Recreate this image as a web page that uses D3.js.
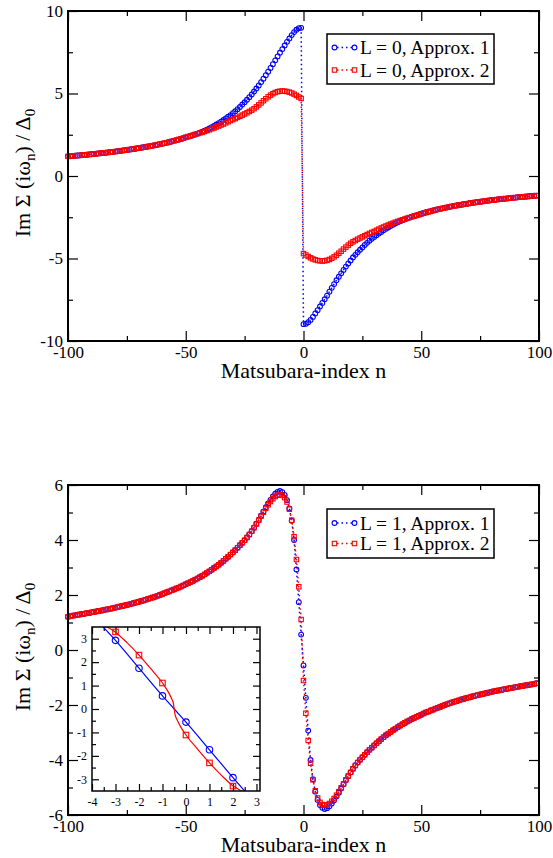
<!DOCTYPE html>
<html>
<head>
<meta charset="utf-8">
<script src="https://cdnjs.cloudflare.com/ajax/libs/d3/7.8.5/d3.min.js"></script>
<style>
  body { margin: 0; background: #fff; }
  svg { display: block; font-family: 'Liberation Serif', 'Times New Roman', Times, serif; }
</style>
</head>
<body>
<div id="chart"></div>
<script>
// Matsubara index n (x of every point in both panels)
const matsubaraN = d3.range(-100, 100);

// top panel, L = 0, Approx. 1  (n = -100 ... 99)
const imL0a1 = [
  1.19, 1.20, 1.21, 1.23, 1.24, 1.25, 1.27, 1.28, 1.29, 1.31,
  1.32, 1.34, 1.35, 1.37, 1.38, 1.40, 1.41, 1.43, 1.45, 1.46,
  1.48, 1.50, 1.52, 1.54, 1.56, 1.58, 1.60, 1.62, 1.64, 1.67,
  1.69, 1.71, 1.74, 1.76, 1.79, 1.81, 1.84, 1.87, 1.90, 1.93,
  1.96, 1.99, 2.02, 2.06, 2.09, 2.13, 2.17, 2.20, 2.24, 2.29,
  2.33, 2.38, 2.42, 2.47, 2.52, 2.57, 2.63, 2.68, 2.74, 2.80,
  2.88, 2.96, 3.03, 3.12, 3.20, 3.29, 3.39, 3.49, 3.59, 3.69,
  3.81, 3.92, 4.05, 4.18, 4.33, 4.47, 4.62, 4.78, 4.94, 5.12,
  5.30, 5.49, 5.69, 5.90, 6.11, 6.32, 6.55, 6.78, 7.01, 7.25,
  7.47, 7.69, 7.91, 8.13, 8.33, 8.54, 8.72, 8.86, 8.96, 8.98,
  -8.98, -8.96, -8.86, -8.72, -8.54, -8.33, -8.13, -7.91, -7.69, -7.47,
  -7.25, -7.01, -6.78, -6.55, -6.32, -6.11, -5.90, -5.69, -5.49, -5.30,
  -5.12, -4.94, -4.78, -4.62, -4.47, -4.33, -4.18, -4.05, -3.92, -3.81,
  -3.69, -3.59, -3.49, -3.39, -3.29, -3.20, -3.12, -3.03, -2.96, -2.88,
  -2.80, -2.74, -2.68, -2.63, -2.57, -2.52, -2.47, -2.42, -2.38, -2.33,
  -2.29, -2.24, -2.20, -2.17, -2.13, -2.09, -2.06, -2.02, -1.99, -1.96,
  -1.93, -1.90, -1.87, -1.84, -1.81, -1.79, -1.76, -1.74, -1.71, -1.69,
  -1.67, -1.64, -1.62, -1.60, -1.58, -1.56, -1.54, -1.52, -1.50, -1.48,
  -1.46, -1.45, -1.43, -1.41, -1.40, -1.38, -1.37, -1.35, -1.34, -1.32,
  -1.31, -1.29, -1.28, -1.27, -1.25, -1.24, -1.23, -1.21, -1.20, -1.19
];

// top panel, L = 0, Approx. 2
const imL0a2 = [
  1.19, 1.20, 1.21, 1.23, 1.24, 1.25, 1.27, 1.28, 1.29, 1.31,
  1.32, 1.34, 1.35, 1.37, 1.38, 1.40, 1.41, 1.43, 1.45, 1.46,
  1.48, 1.50, 1.52, 1.54, 1.56, 1.58, 1.60, 1.62, 1.64, 1.67,
  1.69, 1.71, 1.74, 1.76, 1.79, 1.81, 1.84, 1.87, 1.90, 1.93,
  1.96, 1.99, 2.02, 2.06, 2.10, 2.14, 2.18, 2.22, 2.26, 2.30,
  2.35, 2.39, 2.43, 2.47, 2.52, 2.56, 2.61, 2.65, 2.70, 2.75,
  2.80, 2.86, 2.91, 2.97, 3.03, 3.09, 3.15, 3.22, 3.29, 3.36,
  3.42, 3.48, 3.55, 3.62, 3.69, 3.76, 3.83, 3.91, 3.99, 4.08,
  4.19, 4.31, 4.43, 4.56, 4.68, 4.80, 4.90, 4.99, 5.06, 5.11,
  5.14, 5.15, 5.14, 5.12, 5.08, 5.03, 4.96, 4.88, 4.79, 4.70,
  -4.70, -4.79, -4.88, -4.96, -5.03, -5.08, -5.12, -5.14, -5.15, -5.14,
  -5.11, -5.06, -4.99, -4.90, -4.80, -4.68, -4.56, -4.43, -4.31, -4.19,
  -4.08, -3.99, -3.91, -3.83, -3.76, -3.69, -3.62, -3.55, -3.48, -3.42,
  -3.36, -3.29, -3.22, -3.15, -3.09, -3.03, -2.97, -2.91, -2.86, -2.80,
  -2.75, -2.70, -2.65, -2.61, -2.56, -2.52, -2.47, -2.43, -2.39, -2.35,
  -2.30, -2.26, -2.22, -2.18, -2.14, -2.10, -2.06, -2.02, -1.99, -1.96,
  -1.93, -1.90, -1.87, -1.84, -1.81, -1.79, -1.76, -1.74, -1.71, -1.69,
  -1.67, -1.64, -1.62, -1.60, -1.58, -1.56, -1.54, -1.52, -1.50, -1.48,
  -1.46, -1.45, -1.43, -1.41, -1.40, -1.38, -1.37, -1.35, -1.34, -1.32,
  -1.31, -1.29, -1.28, -1.27, -1.25, -1.24, -1.23, -1.21, -1.20, -1.19
];

// bottom panel, L = 1, Approx. 1
const imL1a1 = [
  1.21, 1.23, 1.25, 1.26, 1.28, 1.29, 1.31, 1.32, 1.34, 1.35,
  1.37, 1.38, 1.40, 1.42, 1.43, 1.45, 1.47, 1.48, 1.50, 1.52,
  1.54, 1.56, 1.58, 1.60, 1.62, 1.64, 1.66, 1.68, 1.71, 1.73,
  1.75, 1.78, 1.80, 1.83, 1.86, 1.88, 1.91, 1.94, 1.97, 2.00,
  2.03, 2.07, 2.10, 2.13, 2.17, 2.20, 2.24, 2.27, 2.31, 2.35,
  2.39, 2.43, 2.47, 2.51, 2.56, 2.60, 2.65, 2.70, 2.75, 2.81,
  2.86, 2.92, 2.98, 3.04, 3.10, 3.17, 3.24, 3.32, 3.39, 3.47,
  3.55, 3.63, 3.72, 3.81, 3.90, 3.99, 4.09, 4.20, 4.32, 4.45,
  4.59, 4.73, 4.88, 5.04, 5.19, 5.33, 5.46, 5.58, 5.68, 5.75,
  5.78, 5.74, 5.64, 5.45, 5.15, 4.70, 4.00, 2.93, 1.74, 0.56,
  -0.56, -1.74, -2.93, -4.00, -4.70, -5.15, -5.45, -5.64, -5.74, -5.78,
  -5.75, -5.68, -5.58, -5.46, -5.33, -5.19, -5.04, -4.88, -4.73, -4.59,
  -4.45, -4.32, -4.20, -4.09, -3.99, -3.90, -3.81, -3.72, -3.63, -3.55,
  -3.47, -3.39, -3.32, -3.24, -3.17, -3.10, -3.04, -2.98, -2.92, -2.86,
  -2.81, -2.75, -2.70, -2.65, -2.60, -2.56, -2.51, -2.47, -2.43, -2.39,
  -2.35, -2.31, -2.27, -2.24, -2.20, -2.17, -2.13, -2.10, -2.07, -2.03,
  -2.00, -1.97, -1.94, -1.91, -1.88, -1.86, -1.83, -1.80, -1.78, -1.75,
  -1.73, -1.71, -1.68, -1.66, -1.64, -1.62, -1.60, -1.58, -1.56, -1.54,
  -1.52, -1.50, -1.48, -1.47, -1.45, -1.43, -1.42, -1.40, -1.38, -1.37,
  -1.35, -1.34, -1.32, -1.31, -1.29, -1.28, -1.26, -1.25, -1.23, -1.21
];

// bottom panel, L = 1, Approx. 2
const imL1a2 = [
  1.21, 1.23, 1.25, 1.26, 1.28, 1.29, 1.31, 1.32, 1.34, 1.35,
  1.37, 1.38, 1.40, 1.42, 1.43, 1.45, 1.47, 1.48, 1.50, 1.52,
  1.54, 1.56, 1.58, 1.60, 1.62, 1.64, 1.66, 1.68, 1.71, 1.73,
  1.75, 1.78, 1.80, 1.83, 1.86, 1.88, 1.91, 1.94, 1.97, 2.00,
  2.03, 2.07, 2.10, 2.13, 2.17, 2.20, 2.24, 2.27, 2.31, 2.35,
  2.39, 2.43, 2.47, 2.51, 2.56, 2.60, 2.65, 2.70, 2.75, 2.81,
  2.86, 2.92, 2.98, 3.04, 3.10, 3.17, 3.24, 3.32, 3.39, 3.47,
  3.55, 3.63, 3.72, 3.81, 3.90, 3.99, 4.09, 4.20, 4.32, 4.45,
  4.58, 4.72, 4.87, 5.01, 5.15, 5.28, 5.40, 5.50, 5.58, 5.63,
  5.65, 5.62, 5.54, 5.38, 5.12, 4.72, 4.12, 3.29, 2.30, 1.11,
  -1.11, -2.30, -3.29, -4.12, -4.72, -5.12, -5.38, -5.54, -5.62, -5.65,
  -5.63, -5.58, -5.50, -5.40, -5.28, -5.15, -5.01, -4.87, -4.72, -4.58,
  -4.45, -4.32, -4.20, -4.09, -3.99, -3.90, -3.81, -3.72, -3.63, -3.55,
  -3.47, -3.39, -3.32, -3.24, -3.17, -3.10, -3.04, -2.98, -2.92, -2.86,
  -2.81, -2.75, -2.70, -2.65, -2.60, -2.56, -2.51, -2.47, -2.43, -2.39,
  -2.35, -2.31, -2.27, -2.24, -2.20, -2.17, -2.13, -2.10, -2.07, -2.03,
  -2.00, -1.97, -1.94, -1.91, -1.88, -1.86, -1.83, -1.80, -1.78, -1.75,
  -1.73, -1.71, -1.68, -1.66, -1.64, -1.62, -1.60, -1.58, -1.56, -1.54,
  -1.52, -1.50, -1.48, -1.47, -1.45, -1.43, -1.42, -1.40, -1.38, -1.37,
  -1.35, -1.34, -1.32, -1.31, -1.29, -1.28, -1.26, -1.25, -1.23, -1.21
];

// inset: smooth curves behind the points around n = 0
const insetBlueX = [-3.6, -3, -2, -1, -0.5, 0, 1, 2, 2.6];
const insetBlueY = [3.58, 2.93, 1.74, 0.56, 0, -0.56, -1.74, -2.93, -3.62];
const insetRedX = [-3.4, -3, -2.5, -2, -1.5, -1, -0.75, -0.6, -0.55, -0.45, -0.4, -0.25, 0, 0.5, 1, 1.5, 2, 2.4];
const insetRedY = [3.52, 3.28, 2.82, 2.3, 1.72, 1.11, 0.72, 0.42, 0.3, -0.3, -0.42, -0.72, -1.11, -1.72, -2.3, -2.82, -3.28, -3.52];

// tick values
const xMajor = [-100, -50, 0, 50, 100];
const xMinor = [-75, -25, 25, 75];
const topYMajor = [-10, -5, 0, 5, 10];
const topYMinor = [-7.5, -2.5, 2.5, 7.5];
const botYMajor = [-6, -4, -2, 0, 2, 4, 6];
const botYMinor = [-5, -3, -1, 1, 3, 5];
const insetXMajor = [-4, -3, -2, -1, 0, 1, 2, 3];
const insetXMinor = [-3.5, -2.5, -1.5, -0.5, 0.5, 1.5, 2.5];
const insetYMajor = [-3, -2, -1, 0, 1, 2, 3];
const insetYMinor = [-2.5, -1.5, -0.5, 0.5, 1.5, 2.5];

const BLUE = "#0000ff", RED = "#ff0000";
const FONT = "'Liberation Serif', 'Times New Roman', Times, serif";

const svg = d3.select("#chart").append("svg")
    .attr("width", 553)
    .attr("height", 858)
    .style("font-family", FONT);

// inward ticks on all four sides, labels on left and bottom only
function frameAxes(g, x, y, xt, yt, big, small, fontSize, padX, padY) {
    const [x0, x1] = x.range();
    const [y0, y1] = y.range();
    const label = d => String(d);
    const put = (axis, tx, ty) => g.append("g")
        .attr("transform", `translate(${tx},${ty})`)
        .call(axis)
        .attr("font-family", null)
        .attr("font-size", fontSize);

    [[xt.major, big, true], [xt.minor, small, false]].forEach(([vals, len, lab]) => {
        put(d3.axisBottom(x).tickValues(vals).tickSize(-len).tickPadding(padX).tickFormat(lab ? label : ""), 0, y0);
        put(d3.axisTop(x).tickValues(vals).tickSize(-len).tickFormat(""), 0, y1);
    });
    [[yt.major, big, true], [yt.minor, small, false]].forEach(([vals, len, lab]) => {
        put(d3.axisLeft(y).tickValues(vals).tickSize(-len).tickPadding(padY).tickFormat(lab ? label : ""), x0, 0);
        put(d3.axisRight(y).tickValues(vals).tickSize(-len).tickFormat(""), x1, 0);
    });
    g.selectAll(".domain").remove();
    g.selectAll(".tick line").attr("stroke", "#000").attr("stroke-width", 1.2);
    g.selectAll(".tick text").attr("fill", "#000");
}

function drawMarkers(g, pts, x, y, shape, color, size) {
    if (shape === "circle") {
        g.append("g").selectAll("circle").data(pts).join("circle")
            .attr("cx", d => x(d[0])).attr("cy", d => y(d[1]))
            .attr("r", size / 2)
            .attr("fill", "none").attr("stroke", color).attr("stroke-width", 1.1);
    } else {
        g.append("g").selectAll("rect").data(pts).join("rect")
            .attr("x", d => x(d[0]) - size / 2).attr("y", d => y(d[1]) - size / 2)
            .attr("width", size).attr("height", size)
            .attr("fill", "none").attr("stroke", color).attr("stroke-width", 1.1);
    }
}

function drawPanel(p) {
    const x = d3.scaleLinear().domain([-100, 100]).range([68, 539]);
    const y = d3.scaleLinear().domain(p.yDomain).range([p.bottom, p.top]);
    const g = svg.append("g");

    frameAxes(g, x, y, { major: xMajor, minor: xMinor }, { major: p.yMajor, minor: p.yMinor }, 10, 5, 17, 5, 5);

    const line = d3.line().x(d => x(d[0])).y(d => y(d[1]));
    p.series.forEach(s => {
        const pts = matsubaraN.map((n, i) => [n, s.values[i]]);
        g.append("path")
            .attr("d", line(pts))
            .attr("fill", "none")
            .attr("stroke", s.color)
            .attr("stroke-width", 1.5)
            .attr("stroke-dasharray", "1.5,3");
        drawMarkers(g, pts, x, y, s.shape, s.color, s.shape === "circle" ? 4.8 : 4.4);
    });

    g.append("rect")
        .attr("x", 68).attr("y", p.top)
        .attr("width", 539 - 68).attr("height", p.bottom - p.top)
        .attr("fill", "none").attr("stroke", "#000").attr("stroke-width", 2);

    // axis titles
    g.append("text")
        .attr("x", 303.5).attr("y", p.bottom + 37)
        .attr("text-anchor", "middle")
        .attr("font-size", 22)
        .text("Matsubara-index n");

    const yl = g.append("text")
        .attr("transform", `translate(30,${(p.top + p.bottom) / 2 - 3}) rotate(-90)`)
        .attr("text-anchor", "middle")
        .attr("font-size", 22);
    yl.append("tspan").text("Im \u03A3 (i\u03C9");
    yl.append("tspan").attr("font-size", 15).attr("dy", 5).text("n");
    yl.append("tspan").attr("dy", -5).text(") / \u0394");
    yl.append("tspan").attr("font-size", 15).attr("dy", 5).text("0");

    // legend
    const lg = g.append("g");
    lg.append("rect")
        .attr("x", 327).attr("y", p.legendTop)
        .attr("width", 167).attr("height", p.legendH)
        .attr("fill", "#fff").attr("stroke", "#000").attr("stroke-width", 1.5);
    p.series.forEach((s, i) => {
        const cy = p.legendTop + p.legendFirst + i * p.legendStep;
        lg.append("line")
            .attr("x1", 334).attr("x2", 354).attr("y1", cy).attr("y2", cy)
            .attr("stroke", s.color).attr("stroke-width", 1.5)
            .attr("stroke-dasharray", "1.5,3").attr("stroke-dashoffset", -3);
        const id = d3.scaleLinear();
        drawMarkers(lg, [[334.5, cy], [354.5, cy]], id, id, s.shape, s.color, s.shape === "circle" ? 4.8 : 4.4);
        lg.append("text")
            .attr("x", 360).attr("y", cy + 6.5)
            .attr("font-size", 19.5)
            .text(s.label);
    });
    return { x, y, g };
}

drawPanel({
    yDomain: [-10, 10], top: 11, bottom: 341,
    yMajor: topYMajor, yMinor: topYMinor,
    legendTop: 34, legendH: 50, legendFirst: 13.5, legendStep: 22.5,
    series: [
        { values: imL0a1, color: BLUE, shape: "circle", label: "L = 0, Approx. 1" },
        { values: imL0a2, color: RED, shape: "square", label: "L = 0, Approx. 2" }
    ]
});

drawPanel({
    yDomain: [-6, 6], top: 485, bottom: 815,
    yMajor: botYMajor, yMinor: botYMinor,
    legendTop: 509, legendH: 49, legendFirst: 14, legendStep: 20.5,
    series: [
        { values: imL1a1, color: BLUE, shape: "circle", label: "L = 1, Approx. 1" },
        { values: imL1a2, color: RED, shape: "square", label: "L = 1, Approx. 2" }
    ]
});

// inset zoom around n = 0
(function () {
    const x = d3.scaleLinear().domain([-4, 3.15]).range([92, 260]);
    const y = d3.scaleLinear().domain([-3.5, 3.5]).range([791, 627]);
    const g = svg.append("g");

    g.append("rect")
        .attr("x", 92).attr("y", 627).attr("width", 168).attr("height", 164)
        .attr("fill", "#fff");
    svg.append("defs").append("clipPath").attr("id", "insetClip")
        .append("rect").attr("x", 92).attr("y", 627).attr("width", 168).attr("height", 164);

    frameAxes(g, x, y, { major: insetXMajor, minor: insetXMinor }, { major: insetYMajor, minor: insetYMinor }, 7, 4, 12, 6, 5);

    const line = d3.line().x(d => x(d[0])).y(d => y(d[1])).curve(d3.curveMonotoneX);
    const plot = g.append("g").attr("clip-path", "url(#insetClip)");
    const sets = [
        { xs: insetBlueX, ys: insetBlueY, values: imL1a1, color: BLUE, shape: "circle", size: 6.5 },
        { xs: insetRedX, ys: insetRedY, values: imL1a2, color: RED, shape: "square", size: 5.5 }
    ];
    sets.forEach(s => {
        plot.append("path")
            .attr("d", line(s.xs.map((v, i) => [v, s.ys[i]])))
            .attr("fill", "none").attr("stroke", s.color).attr("stroke-width", 1.2);
        const pts = matsubaraN.map((n, i) => [n, s.values[i]]).filter(d => d[0] >= -3 && d[0] <= 2);
        drawMarkers(plot, pts, x, y, s.shape, s.color, s.size);
    });

    g.append("rect")
        .attr("x", 92).attr("y", 627).attr("width", 168).attr("height", 164)
        .attr("fill", "none").attr("stroke", "#000").attr("stroke-width", 1.5);
})();
</script>
</body>
</html>
